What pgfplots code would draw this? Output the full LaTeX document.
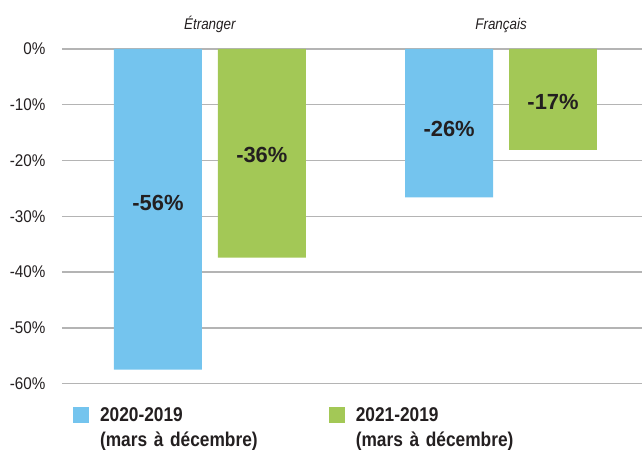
\documentclass[border=0pt]{standalone}
\usepackage{fontspec}
\setmainfont{Liberation Sans}
\newfontfamily\cond[FakeStretch=0.9]{Liberation Sans}
\newfontfamily\condb[FakeStretch=0.87]{Liberation Sans Bold}
\newfontfamily\condi[FakeStretch=0.87]{Liberation Sans Italic}
\usepackage{pgfplots}
\pgfplotsset{compat=1.18}
\definecolor{cblue}{HTML}{74C4EE}
\definecolor{cgreen}{HTML}{A3C856}
\definecolor{cgrid}{HTML}{B4B4B4}
\definecolor{ctext}{HTML}{231F20}
\begin{document}
\begin{tikzpicture}
\begin{axis}[
  scale only axis, width=581bp, height=335bp,
  xmin=-0.508, xmax=1.485, ymin=-60, ymax=0,
  axis line style={draw=none},
  xtick=\empty,
  ytick={-60,-50,-40,-30,-20,-10,0},
  yticklabels={-60\%,-50\%,-40\%,-30\%,-20\%,-10\%,0\%},
  yticklabel style={font=\fontsize{17}{17}\cond, text=ctext, xshift=-13bp},
  ymajorgrids, grid style={cgrid, line width=1.4bp},
  major tick length=0pt, tick style={draw=none},
  clip=false,
  ybar, bar width=88bp,
  legend columns=2,
  legend style={at={(rel axis cs:0,0)}, anchor=north west, xshift=11bp, yshift=-23bp,
    draw=none, fill=none, inner sep=0pt,
    nodes={align=left, text width=200bp, inner sep=0pt, font=\fontsize{20}{25}\condb, text=ctext},
    /tikz/every odd column/.append style={column sep=11bp},
    /tikz/every even column/.append style={column sep=29bp}},
  legend image code/.code={\fill[#1] (0bp,-7bp) rectangle (16bp,9bp);},
]
\addplot[fill=cblue, draw=none, bar shift=-52bp] coordinates {(0,-57.5) (1,-26.6)};
\addlegendentry{2020-2019\\(mars à décembre)}
\addplot[fill=cgreen, draw=none, bar shift=52bp] coordinates {(0,-37.4) (1,-18.1)};
\addlegendentry{2021-2019\\(mars à décembre)}
\node[font=\fontsize{22}{22}\bfseries, text=ctext, xshift=-52bp] at (axis cs:0,-27.6) {-56\%};
\node[font=\fontsize{22}{22}\bfseries, text=ctext, xshift=52bp] at (axis cs:0,-19.0) {-36\%};
\node[font=\fontsize{22}{22}\bfseries, text=ctext, xshift=-52bp] at (axis cs:1,-14.3) {-26\%};
\node[font=\fontsize{22}{22}\bfseries, text=ctext, xshift=52bp] at (axis cs:1,-9.5) {-17\%};
\node[font=\fontsize{15.5}{15.5}\condi, text=ctext, anchor=base, yshift=19bp] at (axis cs:0,0) {Étranger};
\node[font=\fontsize{15.5}{15.5}\condi, text=ctext, anchor=base, yshift=19bp] at (axis cs:1,0) {Français};
\coordinate (ll) at (rel axis cs:0,0);
\coordinate (ur) at (rel axis cs:1,1);
\end{axis}
\path (ur) ++(0,49bp) coordinate (UR);
\path (ll) ++(-62bp,-66bp) rectangle (UR);
\end{tikzpicture}
\end{document}
